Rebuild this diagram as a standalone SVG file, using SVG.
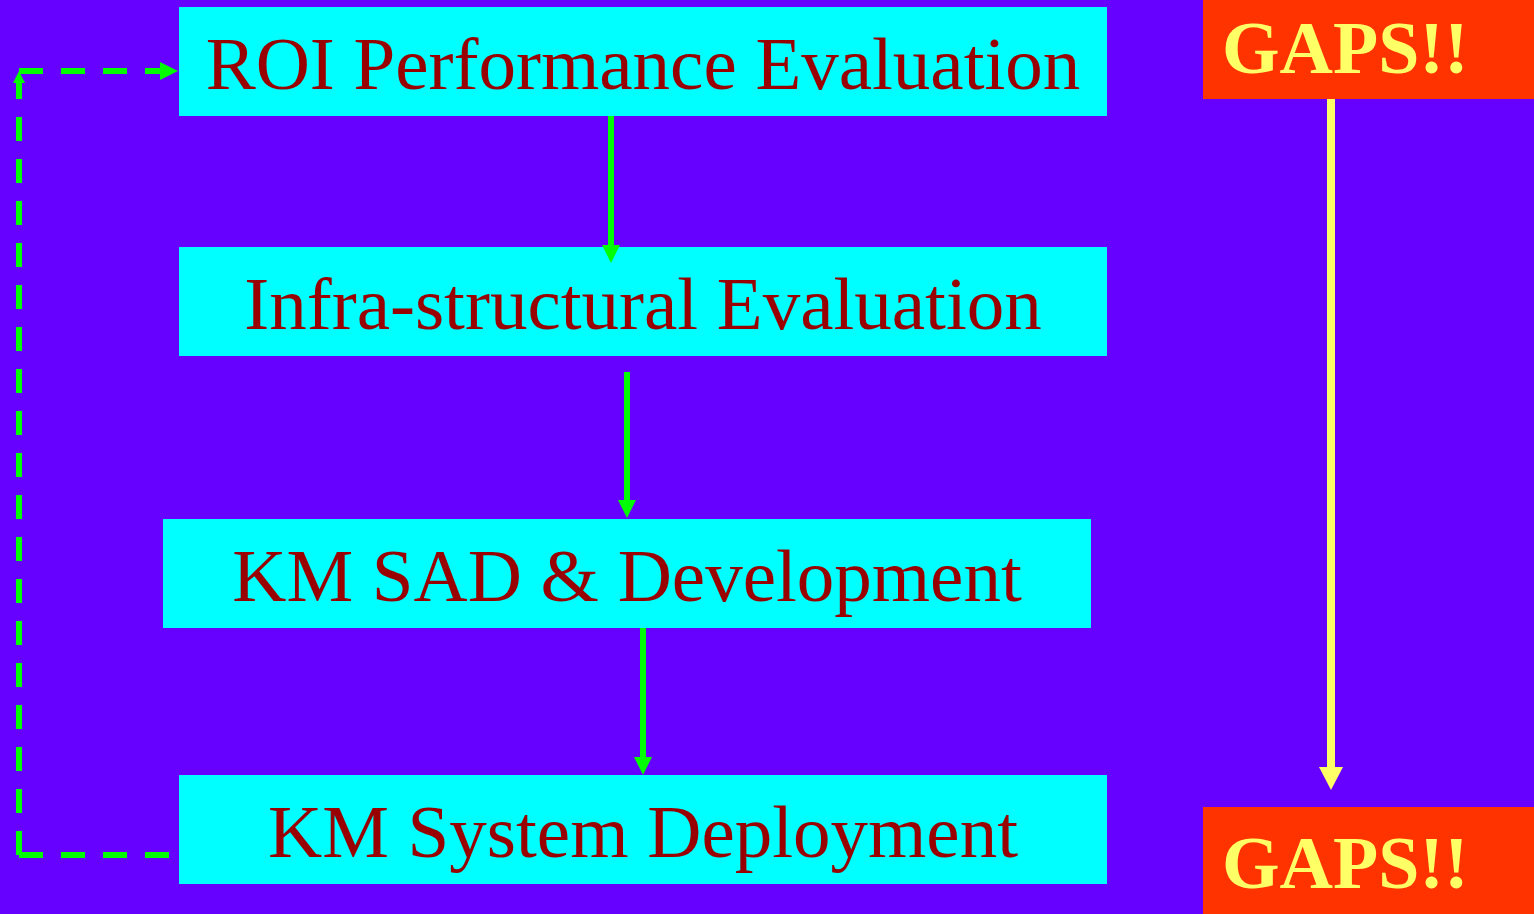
<svg xmlns="http://www.w3.org/2000/svg" width="1534" height="914" viewBox="0 0 1534 914">
  <style>
    .step rect { fill: #00FFFF; }
    .step text { font-family: "Liberation Serif", "Times New Roman", serif; font-size: 75px; fill: #990000; text-anchor: middle; }
    .gap rect { fill: #FF3300; }
    .gap text { font-family: "Liberation Serif", "Times New Roman", serif; font-size: 74px; font-weight: bold; fill: #FFFF66; }
    .flow { stroke: #00FF00; stroke-width: 6; fill: none; }
    .loop { stroke: #00FF00; stroke-width: 6; fill: none; stroke-dasharray: 24 18; }
    .gapline { stroke: #FFFF66; stroke-width: 8; fill: none; }
  </style>
  <defs>
    <marker id="headGreen" markerUnits="userSpaceOnUse" markerWidth="18" markerHeight="18" refX="0" refY="9" orient="auto">
      <path d="M0,0 L18,9 L0,18 Z" fill="#00FF00"/>
    </marker>
    <marker id="headGreenSmall" markerUnits="userSpaceOnUse" markerWidth="12" markerHeight="12" refX="0" refY="6" orient="auto">
      <path d="M0,0 L12,6 L0,12 Z" fill="#00FF00"/>
    </marker>
    <marker id="headYellow" markerUnits="userSpaceOnUse" markerWidth="24" markerHeight="24" refX="0" refY="12" orient="auto">
      <path d="M0,0 L23,12 L0,24 Z" fill="#FFFF66"/>
    </marker>
  </defs>

  <rect width="1534" height="914" fill="#6600FF"/>

  <g id="roi-evaluation" class="step">
    <rect x="179" y="7" width="928" height="109"/>
    <text x="643" y="89">ROI Performance Evaluation</text>
  </g>
  <g id="infrastructural-evaluation" class="step">
    <rect x="179" y="247" width="928" height="109"/>
    <text x="643" y="329">Infra-structural Evaluation</text>
  </g>
  <g id="km-sad-development" class="step">
    <rect x="163" y="519" width="928" height="109"/>
    <text x="627" y="601">KM SAD &amp; Development</text>
  </g>
  <g id="km-system-deployment" class="step">
    <rect x="179" y="775" width="928" height="109"/>
    <text x="643" y="857">KM System Deployment</text>
  </g>

  <g id="gaps-top" class="gap">
    <rect x="1203" y="0" width="331" height="99"/>
    <text x="1222" y="73">GAPS!!</text>
  </g>
  <g id="gaps-bottom" class="gap">
    <rect x="1203" y="807" width="331" height="107"/>
    <text x="1222" y="888">GAPS!!</text>
  </g>

  <g id="connectors">
    <!-- main flow -->
    <path class="flow" d="M611,116 V245" marker-end="url(#headGreen)"/>
    <path class="flow" d="M627,372 V500" marker-end="url(#headGreen)"/>
    <path class="flow" d="M643,628 V757" marker-end="url(#headGreen)"/>
    <!-- feedback loop from deployment back to ROI -->
    <path class="loop" d="M169,855 H19"/>
    <path class="loop" d="M19,855 V83" marker-end="url(#headGreenSmall)"/>
    <path class="loop" d="M19,71 H160" marker-end="url(#headGreen)"/>
    <!-- gaps link -->
    <path class="gapline" d="M1331,99 V767" marker-end="url(#headYellow)"/>
  </g>
</svg>
